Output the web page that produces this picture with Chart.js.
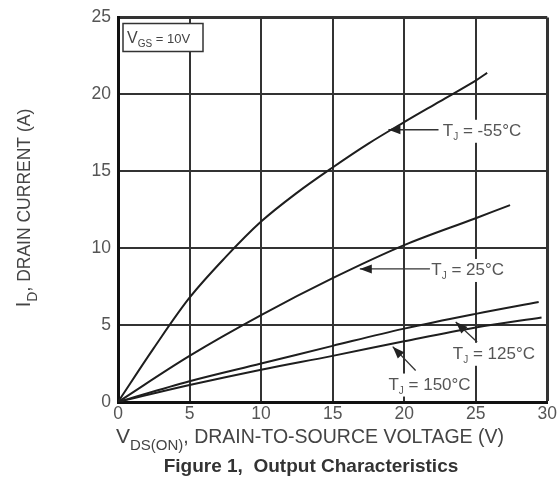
<!DOCTYPE html>
<html>
<head>
<meta charset="utf-8">
<script src="https://cdn.jsdelivr.net/npm/chart.js@4.4.0/dist/chart.umd.min.js"></script>
<style>
  html, body { margin: 0; padding: 0; background: #fff; }
</style>
</head>
<body>
<canvas id="outChart" width="559" height="485"></canvas>
<script>
// values (V, A)
var vdsM55 = [0, 2.5, 5, 7.5, 10, 12.5, 15, 17.5, 20, 22.5, 25, 25.8];
var idM55  = [0, 3.5, 6.78, 9.4, 11.73, 13.6, 15.25, 16.8, 18.2, 19.55, 20.9, 21.4];
var vds25  = [0, 5, 10, 15, 20, 25, 27.4];
var id25   = [0, 3.0, 5.65, 8.05, 10.2, 11.95, 12.8];
var vds125 = [0, 5, 10, 15, 20, 25, 29.4];
var id125  = [0, 1.35, 2.5, 3.65, 4.77, 5.73, 6.5];
var vds150 = [0, 5, 10, 15, 20, 25, 29.6];
var id150  = [0, 1.1, 2.1, 3.0, 3.95, 4.85, 5.5];
var xTicks = [0, 5, 10, 15, 20, 25, 30];
var yTicks = [0, 5, 10, 15, 20, 25];

// label text position + arrow (from -> to), all in data units
var notes = [
  { temp: '-55°C', tx: 22.7, ty: 17.7, ax1: 22.4, ay1: 17.7, ax2: 18.9, ay2: 17.7 },
  { temp: '25°C',  tx: 21.9, ty: 8.65, ax1: 21.8, ay1: 8.65, ax2: 16.9, ay2: 8.65 },
  { temp: '125°C', tx: 23.4, ty: 3.2,  ax1: 25.1, ay1: 3.9,  ax2: 23.6, ay2: 5.2 },
  { temp: '150°C', tx: 18.9, ty: 1.2,  ax1: 20.8, ay1: 2.05, ax2: 19.2, ay2: 3.6 }
];

var FONT = '"Liberation Sans", Arial, sans-serif';

function pts(xa, ya) {
  var out = [];
  for (var i = 0; i < xa.length; i++) out.push({ x: xa[i], y: ya[i] });
  return out;
}

function curve(xa, ya) {
  return {
    data: pts(xa, ya),
    borderColor: '#1e1e1e',
    borderWidth: 2,
    pointRadius: 0,
    fill: false,
    tension: 0.35
  };
}

function partsWidth(ctx, parts) {
  var w = 0;
  parts.forEach(function (p) {
    ctx.font = (p[3] || 'normal') + ' ' + p[1] + 'px ' + FONT;
    w += ctx.measureText(p[0]).width;
  });
  return w;
}

// draw text pieces [text, size, dy, weight] one after another
function rich(ctx, x, y, parts, align, color) {
  var w = partsWidth(ctx, parts);
  if (align === 'center') x -= w / 2;
  ctx.fillStyle = color || '#444';
  ctx.textAlign = 'left';
  ctx.textBaseline = 'alphabetic';
  parts.forEach(function (p) {
    ctx.font = (p[3] || 'normal') + ' ' + p[1] + 'px ' + FONT;
    ctx.fillText(p[0], x, y + (p[2] || 0));
    x += ctx.measureText(p[0]).width;
  });
  return w;
}

function arrow(ctx, x1, y1, x2, y2) {
  ctx.strokeStyle = '#333';
  ctx.fillStyle = '#222';
  ctx.lineWidth = 1.3;
  ctx.beginPath();
  ctx.moveTo(x1, y1);
  ctx.lineTo(x2, y2);
  ctx.stroke();
  var a = Math.atan2(y2 - y1, x2 - x1);
  var L = 12, W = 4.5;
  ctx.beginPath();
  ctx.moveTo(x2, y2);
  ctx.lineTo(x2 - L * Math.cos(a) + W * Math.sin(a), y2 - L * Math.sin(a) - W * Math.cos(a));
  ctx.lineTo(x2 - L * Math.cos(a) - W * Math.sin(a), y2 - L * Math.sin(a) + W * Math.cos(a));
  ctx.closePath();
  ctx.fill();
}

var overlay = {
  id: 'overlay',
  afterDraw: function (chart) {
    var ctx = chart.ctx, xs = chart.scales.x, ys = chart.scales.y, ca = chart.chartArea;
    ctx.save();

    // temperature labels
    notes.forEach(function (n) {
      var tx = xs.getPixelForValue(n.tx), ty = ys.getPixelForValue(n.ty) + 6;
      var parts = [['T', 17, 0], ['J', 10, 4], [' = ' + n.temp, 17, 0]];
      var w = partsWidth(ctx, parts);
      ctx.fillStyle = '#fff';
      ctx.fillRect(tx - 3, ty - 16, w + 6, 23);
      rich(ctx, tx, ty, parts, 'left', '#555');
      arrow(ctx, xs.getPixelForValue(n.ax1), ys.getPixelForValue(n.ay1),
                 xs.getPixelForValue(n.ax2), ys.getPixelForValue(n.ay2));
    });

    // V_GS box
    ctx.fillStyle = '#fff';
    ctx.fillRect(ca.left + 5, ca.top + 6, 80, 28);
    ctx.strokeStyle = '#333';
    ctx.lineWidth = 1.5;
    ctx.strokeRect(ca.left + 5, ca.top + 6, 80, 28);
    rich(ctx, ca.left + 9, ca.top + 25, [['V', 16, 0], ['GS', 10, 4], [' = 10V', 13, 0]], 'left', '#444');

    // x axis title
    rich(ctx, ca.left - 2, 443, [['V', 21, 0], ['DS(ON)', 15, 7], [', DRAIN-TO-SOURCE VOLTAGE (V)', 19.5, 0]], 'left', '#444');
    // caption
    rich(ctx, 311, 472, [['Figure 1,  Output Characteristics', 19, 0, 'bold']], 'center', '#333');

    // y axis title
    ctx.translate(30, 208);
    ctx.rotate(-Math.PI / 2);
    rich(ctx, 0, 0, [['I', 20, 0], ['D', 14, 7], [', DRAIN CURRENT (A)', 17.5, 0]], 'center', '#444');

    ctx.restore();
  }
};

new Chart(document.getElementById('outChart'), {
  type: 'line',
  data: {
    datasets: [
      curve(vdsM55, idM55),
      curve(vds25, id25),
      curve(vds125, id125),
      curve(vds150, id150)
    ]
  },
  options: {
    responsive: false,
    animation: false,
    layout: { padding: { top: 14, right: 9, left: 0, bottom: 0 } },
    plugins: { legend: { display: false }, tooltip: { enabled: false } },
    scales: {
      x: {
        type: 'linear',
        min: 0, max: 30,
        afterBuildTicks: function (s) { s.ticks = xTicks.map(function (v) { return { value: v }; }); },
        afterFit: function (s) { s.height = 83; },
        grid: {
          color: '#333',
          lineWidth: function (c) { return c.tick && c.tick.value === 30 ? 3 : 2; },
          drawTicks: false
        },
        border: { display: true, color: '#111', width: 3 },
        ticks: {
          padding: 2,
          color: '#555',
          font: { family: FONT, size: 17.5 },
          maxRotation: 0
        }
      },
      y: {
        type: 'linear',
        min: 0, max: 25,
        afterBuildTicks: function (s) { s.ticks = yTicks.map(function (v) { return { value: v }; }); },
        afterFit: function (s) { s.width = 118; },
        grid: {
          color: '#333',
          lineWidth: function (c) { return c.tick && c.tick.value === 25 ? 3 : 2; },
          drawTicks: false
        },
        border: { display: true, color: '#111', width: 3 },
        ticks: {
          padding: 7,
          color: '#555',
          font: { family: FONT, size: 17.5 }
        }
      }
    }
  },
  plugins: [overlay]
});
</script>
</body>
</html>
